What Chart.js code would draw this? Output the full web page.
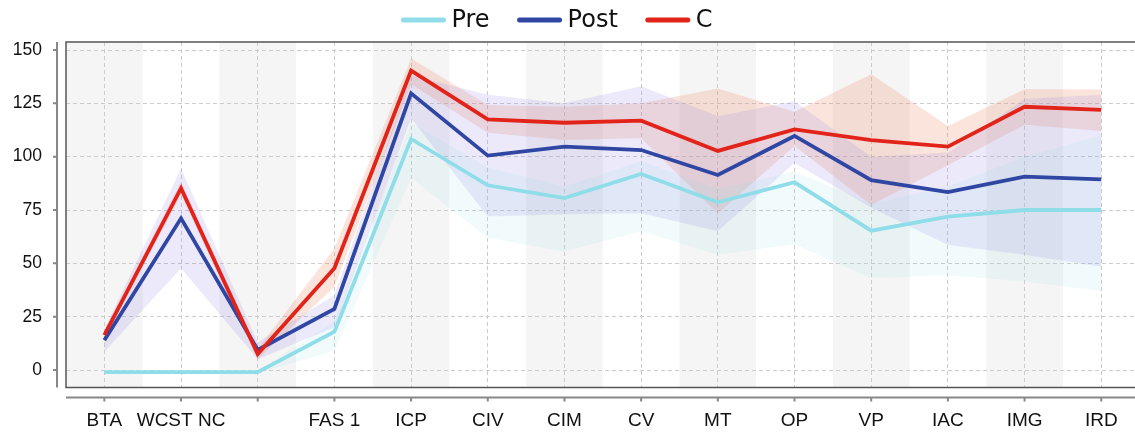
<!DOCTYPE html>
<html lang="en">
<head>
    <meta charset="UTF-8">
    <title>Pre / Post / C</title>
    <script src="https://cdn.jsdelivr.net/npm/chart.js"></script>
    <style>
        html, body { margin: 0; padding: 0; background: #fff; }
        canvas { display: block; }
    </style>
</head>
<body>
    <canvas id="chart" width="1135" height="432"></canvas>
    <script>
        // categories (third one has no label in the source)
        const labels = ['BTA', 'WCST NC', '', 'FAS 1', 'ICP', 'CIV', 'CIM', 'CV', 'MT', 'OP', 'VP', 'IAC', 'IMG', 'IRD'];
        const yTicks = [0, 25, 50, 75, 100, 125, 150];

        // mean lines
        const preMean  = [-1, -1, -1, 18, 108.3, 86.6, 80.6, 91.9, 78.6, 88, 65.3, 71.9, 75, 75];
        const postMean = [14, 71.1, 9.4, 28.6, 129.7, 100.5, 104.7, 103.1, 91.4, 109.7, 89, 83.4, 90.6, 89.4];
        const cMean    = [16.4, 85.2, 7.5, 47.7, 140.3, 117.5, 115.9, 116.9, 102.7, 112.8, 107.8, 104.7, 123.4, 121.9];

        // shaded bands
        const preUpper  = [-0.5, -0.5, -0.5, 23, 116, 95, 86, 98, 85, 93, 78, 86, 100, 110];
        const preLower  = [-1.5, -1.5, -1.5, 9, 90, 62, 55.5, 65, 54, 59, 43, 44.5, 41.5, 37];
        const postUpper = [19, 94.5, 13, 35, 138, 129, 125, 133, 119, 126, 100, 102, 127, 129];
        const postLower = [8.5, 47.7, 5, 20, 118, 72, 73, 73.5, 65, 97, 76, 58.6, 54, 48.4];
        const cUpper    = [18.5, 88.3, 10, 57, 146, 124.2, 123.4, 125, 132, 121, 138.6, 114.4, 131.6, 131.5];
        const cLower    = [14.5, 82, 5, 39, 134, 111.2, 107.8, 108.6, 73.4, 105, 77.3, 96, 115, 112];

        const colors = { pre: '#8fdde8', post: '#2f46a3', c: '#e2231a' };
        const bands = { pre: 'rgba(143,221,232,0.12)', post: 'rgba(150,140,230,0.18)', c: 'rgba(235,130,95,0.22)' };

        const pts = arr => arr.map((v, i) => ({ x: i, y: v }));

        function band(data, fill, color) {
            return {
                data: pts(data), fill: fill, backgroundColor: color,
                borderWidth: 0, borderColor: 'rgba(0,0,0,0)', pointRadius: 0, order: 10, isBand: true
            };
        }
        function line(label, data, color, order) {
            return {
                label: label, data: pts(data), borderColor: color, backgroundColor: color,
                borderWidth: 3.8, pointRadius: 0, fill: false, order: order
            };
        }

        // grey stripes behind every other category
        const stripes = {
            id: 'stripes',
            beforeDraw(chart) {
                const { ctx, chartArea: a, scales: { x } } = chart;
                ctx.save();
                ctx.fillStyle = '#f5f5f5';
                for (let i = 0; i < labels.length; i += 2) {
                    const l = Math.max(x.getPixelForValue(i - 0.5), a.left);
                    const r = Math.min(x.getPixelForValue(i + 0.5), a.right);
                    ctx.fillRect(l, a.top, r - l, a.bottom - a.top);
                }
                ctx.restore();
            }
        };

        // frame around the plot plus the detached axis spines
        const frame = {
            id: 'frame',
            afterDraw(chart) {
                const { ctx, chartArea: a, scales: { x, y } } = chart;
                ctx.save();
                ctx.strokeStyle = '#555';
                ctx.lineWidth = 1.5;
                ctx.beginPath();
                ctx.moveTo(a.right, a.top);
                ctx.lineTo(a.left, a.top);
                ctx.lineTo(a.left, a.bottom);
                ctx.lineTo(a.right, a.bottom);
                ctx.stroke();

                ctx.strokeStyle = '#888';
                ctx.lineWidth = 2;
                const sx = a.left - 9, sy = a.bottom + 10;
                ctx.beginPath();
                ctx.moveTo(sx, a.top); ctx.lineTo(sx, a.bottom);
                ctx.moveTo(a.left, sy); ctx.lineTo(a.right, sy);
                yTicks.forEach(v => { const py = y.getPixelForValue(v); ctx.moveTo(sx - 4, py); ctx.lineTo(sx, py); });
                labels.forEach((l, i) => { const px = x.getPixelForValue(i); ctx.moveTo(px, sy); ctx.lineTo(px, sy + 4); });
                ctx.stroke();
                ctx.restore();
            }
        };

        // legend on top, centred
        const legend = {
            id: 'topLegend',
            afterDraw(chart) {
                const ctx = chart.ctx;
                const items = chart.data.datasets.filter(d => !d.isBand);
                ctx.save();
                ctx.font = '24px "DejaVu Sans"';
                ctx.textBaseline = 'middle';
                const lineLen = 40, gap = 8, itemGap = 30;
                let total = 0;
                items.forEach((d, i) => { total += lineLen + gap + ctx.measureText(d.label).width + (i ? itemGap : 0); });
                let px = 558 - total / 2;
                const py = 20;
                items.forEach(d => {
                    ctx.strokeStyle = d.borderColor;
                    ctx.lineWidth = 5;
                    ctx.lineCap = 'round';
                    ctx.beginPath();
                    ctx.moveTo(px, py); ctx.lineTo(px + lineLen, py);
                    ctx.stroke();
                    ctx.fillStyle = '#111';
                    ctx.fillText(d.label, px + lineLen + gap, py + 1);
                    px += lineLen + gap + ctx.measureText(d.label).width + itemGap;
                });
                ctx.restore();
            }
        };

        new Chart(document.getElementById('chart'), {
            type: 'line',
            data: {
                datasets: [
                    band(preLower, false, bands.pre),
                    band(preUpper, '-1', bands.pre),
                    band(postLower, false, bands.post),
                    band(postUpper, '-1', bands.post),
                    band(cLower, false, bands.c),
                    band(cUpper, '-1', bands.c),
                    line('Pre', preMean, colors.pre, 3),
                    line('Post', postMean, colors.post, 2),
                    line('C', cMean, colors.c, 1)
                ]
            },
            options: {
                responsive: false,
                animation: false,
                devicePixelRatio: 1,
                layout: { padding: { top: 42, right: 0, left: 0, bottom: 0 } },
                plugins: { legend: { display: false }, tooltip: { enabled: false } },
                scales: {
                    x: {
                        type: 'linear',
                        min: -0.5,
                        max: 13.44,
                        afterBuildTicks: s => { s.ticks = labels.map((l, i) => ({ value: i })); },
                        afterFit: s => { s.height = 44.5; s.paddingLeft = 0; s.paddingRight = 0; },
                        ticks: {
                            callback: v => labels[v],
                            font: { family: '"Liberation Sans"', size: 19 },
                            color: '#111',
                            padding: 22,
                            maxRotation: 0,
                            autoSkip: false
                        },
                        grid: { color: '#cccccc', lineWidth: 1, drawTicks: false },
                        border: { display: false, dash: [4, 3] }
                    },
                    y: {
                        min: -8.2,
                        max: 153.75,
                        afterBuildTicks: s => { s.ticks = yTicks.map(v => ({ value: v })); },
                        afterFit: s => { s.width = 66; s.paddingTop = 0; s.paddingBottom = 0; },
                        ticks: {
                            font: { family: '"Liberation Sans"', size: 17.5 },
                            color: '#111',
                            padding: 24
                        },
                        grid: { color: '#cccccc', lineWidth: 1, drawTicks: false },
                        border: { display: false, dash: [4, 3] }
                    }
                }
            },
            plugins: [stripes, frame, legend]
        });
    </script>
</body>
</html>
